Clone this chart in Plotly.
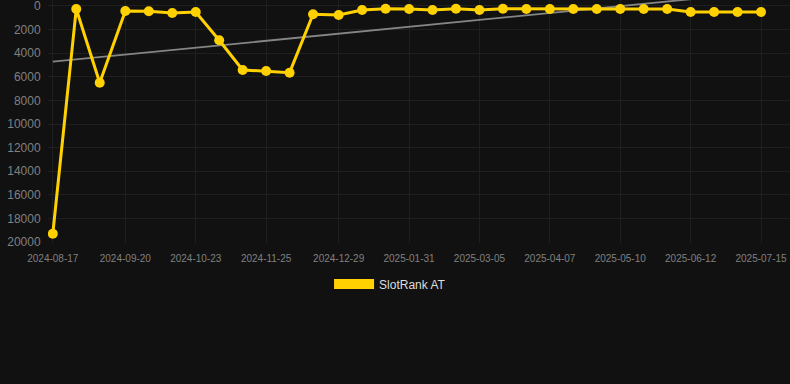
import plotly.graph_objects as go

dates = [
    "2024-08-17", "2024-08-28", "2024-09-08", "2024-09-20", "2024-10-01", "2024-10-12",
    "2024-10-23", "2024-11-03", "2024-11-14", "2024-11-25", "2024-12-06", "2024-12-17",
    "2024-12-29", "2025-01-09", "2025-01-20", "2025-01-31", "2025-02-11", "2025-02-22",
    "2025-03-05", "2025-03-16", "2025-03-27", "2025-04-07", "2025-04-18", "2025-04-29",
    "2025-05-10", "2025-05-21", "2025-06-01", "2025-06-12", "2025-06-23", "2025-07-04",
    "2025-07-15",
]
rank_at = [
    19300, 250, 6500, 420, 450, 590, 510, 2910, 5420, 5510, 5650, 700, 760, 340, 230,
    250, 340, 230, 340, 230, 250, 250, 250, 250, 250, 250, 250, 510, 510, 510, 510,
]
trend_dates = ["2024-08-17", "2025-07-15"]
trend_values = [4720, -1160]

tick_dates = ["2024-08-17", "2024-09-20", "2024-10-23", "2024-11-25", "2024-12-29",
              "2025-01-31", "2025-03-05", "2025-04-07", "2025-05-10", "2025-06-12",
              "2025-07-15"]
y_ticks = [0, 2000, 4000, 6000, 8000, 10000, 12000, 14000, 16000, 18000, 20000]

GOLD = "#FFD100"
BG = "#111111"
GRID = "#1f1f1f"

fig = go.Figure()
fig.add_trace(go.Scatter(
    x=trend_dates, y=trend_values, mode="lines",
    line=dict(color="#858585", width=1.8), showlegend=False, hoverinfo="skip",
))
fig.add_trace(go.Scatter(
    x=dates, y=rank_at, mode="lines+markers",
    line=dict(color=GOLD, width=3), marker=dict(color=GOLD, size=10),
    showlegend=False, name="SlotRank AT",
))
fig.add_trace(go.Scatter(
    x=[None], y=[None], mode="lines", name="SlotRank AT",
    line=dict(color=GOLD, width=11), showlegend=True,
))

fig.update_layout(
    width=790, height=384,
    paper_bgcolor=BG, plot_bgcolor=BG,
    margin=dict(l=48, r=0, t=0, b=141),
    font=dict(family="Liberation Sans, Arial, sans-serif", color="#808080"),
    xaxis=dict(
        type="date",
        range=["2024-08-14 18:00", "2025-07-28 14:00"],
        tickvals=tick_dates, ticktext=tick_dates,
        tickfont=dict(size=10, color="#808080"),
        showgrid=True, gridcolor=GRID, gridwidth=1,
        zeroline=False, showline=False,
        ticks="outside", ticklen=6, tickcolor=BG,
        ticklabeloverflow="allow",
    ),
    yaxis=dict(
        range=[20085, -508],
        tickvals=y_ticks, tickformat="d",
        tickfont=dict(size=12, color="#808080"),
        showgrid=True, gridcolor=GRID, gridwidth=1,
        zeroline=False, showline=False,
        ticks="outside", ticklen=4, tickcolor=BG,
        ticklabeloverflow="allow",
    ),
    legend=dict(
        orientation="h", x=0.461, xanchor="center", y=-0.169, yanchor="middle",
        font=dict(size=12, color="#dddddd"), bgcolor="rgba(0,0,0,0)",
        itemwidth=40,
    ),
    showlegend=True,
)

fig.write_html(
    "out.html",
    config={"displayModeBar": False},
    post_script="document.body.style.margin='0';document.body.style.background='#111111';",
)
